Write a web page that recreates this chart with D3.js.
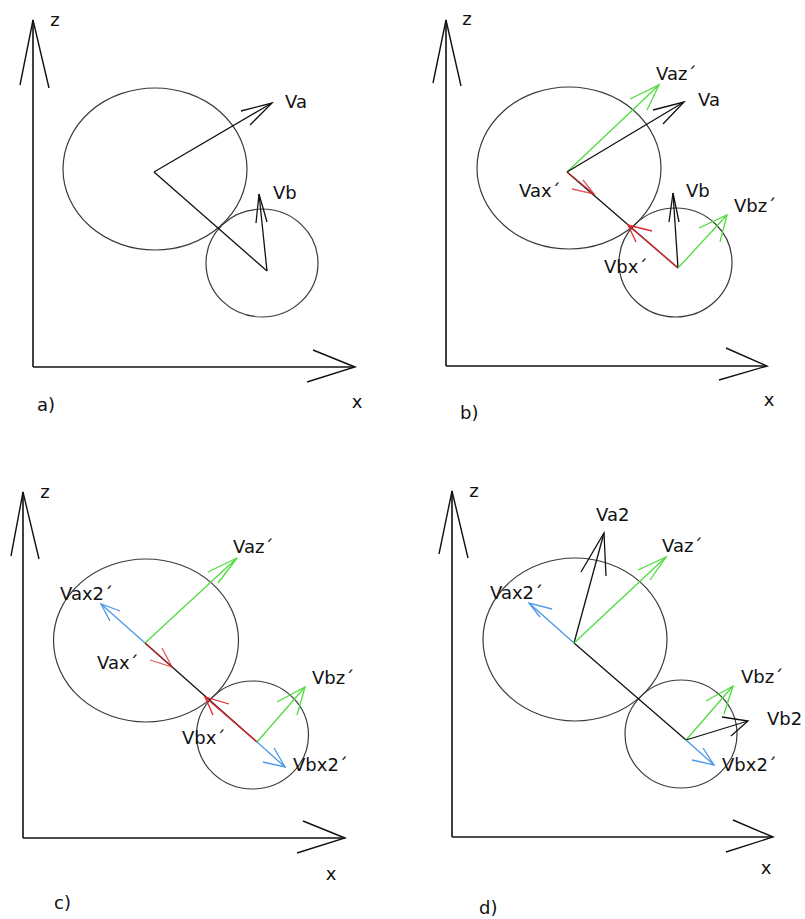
<!DOCTYPE html>
<html>
<head>
<meta charset="utf-8">
<script src="https://cdn.jsdelivr.net/npm/d3@7"></script>
<style>
  html, body { margin: 0; padding: 0; background: #fff; }
  svg { display: block; }
</style>
</head>
<body>
<svg id="chart" width="805" height="919"></svg>
<script>
// ---------- DATA (diagram units: x to the right, z upward, origin at each panel's axis corner) ----------
const panelIds = ["a", "b", "c", "d"];
const panelLabels = ["a)", "b)", "c)", "d)"];

// bodies: [panel, name, centreX, centreZ, radiusX, radiusZ]
const bodies = [
  ["a", "A", 122, 198, 92, 81], ["a", "B", 229, 104, 56, 54],
  ["b", "A", 123, 198, 92, 81], ["b", "B", 229.5, 103.5, 56.5, 54.5],
  ["c", "A", 123, 197.5, 92.5, 81.5], ["c", "B", 229.5, 103, 56, 54],
  ["d", "A", 123, 197.5, 92, 81.5], ["d", "B", 229, 103, 56, 54]
];

// axes: [panel, tip, wing1, wing2]
const axesData = [
  ["a", [0, 347], [-13, 282], [16, 279]], ["a", [322, 0], [280, 17], [274, -15]],
  ["b", [0, 346], [-13, 283], [15, 280]], ["b", [321, 0], [280, 18], [273, -14]],
  ["c", [0, 346], [-12, 282], [16, 279]], ["c", [322, 0], [280, 17], [274, -15]],
  ["d", [0, 346], [-13, 283], [16, 279]], ["d", [321, 0], [281, 17], [274, -15]]
];

// centre-to-centre links: [panel, from, to]
const links = [
  ["a", [121, 195], [234, 96]],
  ["b", [121, 194], [232, 98]],
  ["c", [122, 195], [234, 96]],
  ["d", [122, 194], [234, 97]]
];

// vectors: [panel, name, kind, from, to, wing1, wing2]
const vectors = [
  ["a", "Va",    "v",  [121, 195], [239, 264], [208, 256], [217, 242]],
  ["a", "Vb",    "v",  [234, 96],  [226, 173], [223, 144], [234, 145]],

  ["b", "Vaz",   "z",  [121, 194], [213, 281], [184, 267], [201, 256]],
  ["b", "Va",    "v",  [121, 194], [238, 264], [207, 256], [217, 242]],
  ["b", "Vax",   "xa", [121, 194], [148, 172], [126, 177], [137, 186]],
  ["b", "Vbx",   "x",  [232, 98],  [182, 141], [206, 135], [190, 124]],
  ["b", "Vb",    "v",  [232, 98],  [227, 173], [223, 144], [233, 144]],
  ["b", "Vbz",   "z",  [232, 98],  [281, 151], [253, 138], [274, 124]],

  ["c", "Vaz",   "z",  [122, 195], [214, 280], [185, 266], [195, 255]],
  ["c", "Vax2",  "x2", [122, 195], [78, 234],  [97, 227],  [87, 217]],
  ["c", "Vax",   "xa", [122, 195], [149, 171], [127, 178], [139, 190]],
  ["c", "Vbx",   "x",  [234, 96],  [182, 141], [206, 134], [190, 123]],
  ["c", "Vbz",   "z",  [234, 96],  [282, 151], [254, 136], [274, 123]],
  ["c", "Vbx2",  "x2", [234, 96],  [262, 71],  [240, 76],  [251, 90]],

  ["d", "Va2",   "v",  [122, 194], [152, 304], [129, 265], [154, 261]],
  ["d", "Vaz",   "z",  [122, 194], [214, 280], [186, 267], [198, 257]],
  ["d", "Vax2",  "x2", [122, 194], [77, 234],  [100, 228], [88, 220]],
  ["d", "Vbz",   "z",  [234, 97],  [281, 151], [254, 136], [272, 123]],
  ["d", "Vb2",   "v",  [234, 97],  [296, 116], [270, 120], [279, 101]],
  ["d", "Vbx2",  "x2", [234, 97],  [262, 72],  [240, 77],  [251, 89]]
];

// text labels: [panel, text, x, z, anchor]
const labels = [
  ["a", "z", 22, 347, "middle"], ["a", "x", 324, -35, "middle"], ["a", "a)", 4, -38, "start"],
  ["a", "Va", 252, 265, "start"], ["a", "Vb", 240, 174, "start"],

  ["b", "z", 21, 347, "middle"], ["b", "x", 323, -34, "middle"], ["b", "b)", 14, -47, "start"],
  ["b", "Vaz\u00B4", 210, 292, "start"], ["b", "Va", 252, 266, "start"],
  ["b", "Vax\u00B4", 73, 175, "start"], ["b", "Vb", 240, 175, "start"],
  ["b", "Vbz\u00B4", 288, 160, "start"], ["b", "Vbx\u00B4", 158, 99, "start"],

  ["c", "z", 22, 346, "middle"], ["c", "x", 308, -36, "middle"], ["c", "c)", 31, -65, "start"],
  ["c", "Vaz\u00B4", 210, 291, "start"], ["c", "Vax2\u00B4", 37, 244, "start"],
  ["c", "Vax\u00B4", 74, 175, "start"], ["c", "Vbz\u00B4", 289, 160, "start"],
  ["c", "Vbx\u00B4", 159, 100, "start"], ["c", "Vbx2\u00B4", 270, 73, "start"],

  ["d", "z", 22, 346, "middle"], ["d", "x", 314, -31, "middle"], ["d", "d)", 27, -71, "start"],
  ["d", "Va2", 144, 322, "start"], ["d", "Vaz\u00B4", 210, 291, "start"],
  ["d", "Vax2\u00B4", 38, 244, "start"], ["d", "Vbz\u00B4", 289, 160, "start"],
  ["d", "Vb2", 315, 118, "start"], ["d", "Vbx2\u00B4", 270, 72, "start"]
];

// ---------- LAYOUT & STYLE ----------
const panelOrigin = { a: [33, 367], b: [446, 366], c: [23, 838], d: [452, 837] };
const kindColor = { v: "#111111", z: "#4fdc3c", x: "#e0262b", xa: "#d8262b", x2: "#4a98e6" };
const kindOpacity = { v: 1, z: 1, x: 1, xa: 0.75, x2: 1 };
const fontFamily = "'DejaVu Sans', Verdana, sans-serif";

const svg = d3.select("#chart");
svg.append("rect").attr("width", 805).attr("height", 919).attr("fill", "#fff");

function scalesFor(p) {
  const [ox, oy] = panelOrigin[p];
  return {
    x: d3.scaleLinear().domain([0, 322]).range([ox, ox + 322]),
    z: d3.scaleLinear().domain([0, 347]).range([oy, oy - 347])
  };
}

const line = d3.line();

panelIds.forEach((p, i) => {
  const s = scalesFor(p);
  const pt = d => [s.x(d[0]), s.z(d[1])];
  const g = svg.append("g").attr("class", "panel-" + p);

  // bodies
  g.selectAll("ellipse.body")
    .data(bodies.filter(b => b[0] === p))
    .join("ellipse")
    .attr("class", "body")
    .attr("cx", d => s.x(d[2]))
    .attr("cy", d => s.z(d[3]))
    .attr("rx", d => s.x(d[4]) - s.x(0))
    .attr("ry", d => s.z(0) - s.z(d[5]))
    .attr("fill", "none")
    .attr("stroke", "#3a3a3a")
    .attr("stroke-width", 1.2);

  // axes
  const ax = axesData.filter(a => a[0] === p);
  g.selectAll("path.axis-shaft")
    .data(ax).join("path")
    .attr("class", "axis-shaft")
    .attr("d", d => line([pt([0, 0]), pt(d[1])]))
    .attr("stroke", "#111").attr("stroke-width", 1.6).attr("fill", "none");
  g.selectAll("path.axis-head")
    .data(ax).join("path")
    .attr("class", "axis-head")
    .attr("d", d => line([pt(d[2]), pt(d[1]), pt(d[3])]))
    .attr("stroke", "#111").attr("stroke-width", 1.4).attr("fill", "none");

  // link between centres
  g.selectAll("path.link")
    .data(links.filter(l => l[0] === p)).join("path")
    .attr("class", "link")
    .attr("d", d => line([pt(d[1]), pt(d[2])]))
    .attr("stroke", "#111").attr("stroke-width", 1.3).attr("fill", "none");

  // vectors
  const vs = vectors.filter(v => v[0] === p);
  const vg = g.selectAll("g.vec").data(vs).join("g").attr("class", "vec")
    .attr("stroke", d => kindColor[d[2]])
    .attr("stroke-opacity", d => kindOpacity[d[2]])
    .attr("stroke-width", 1.3)
    .attr("fill", "none");
  vg.append("path").attr("d", d => line([pt(d[3]), pt(d[4])]));
  vg.append("path").attr("d", d => line([pt(d[5]), pt(d[4]), pt(d[6])]));

  // labels
  g.selectAll("text.lbl")
    .data(labels.filter(l => l[0] === p)).join("text")
    .attr("class", "lbl")
    .attr("x", d => s.x(d[2]))
    .attr("y", d => s.z(d[3]))
    .attr("dy", "0.35em")
    .attr("text-anchor", d => d[4])
    .attr("font-family", fontFamily)
    .attr("font-size", 18)
    .attr("fill", "#111")
    .text(d => d[1]);
});
</script>
</body>
</html>
